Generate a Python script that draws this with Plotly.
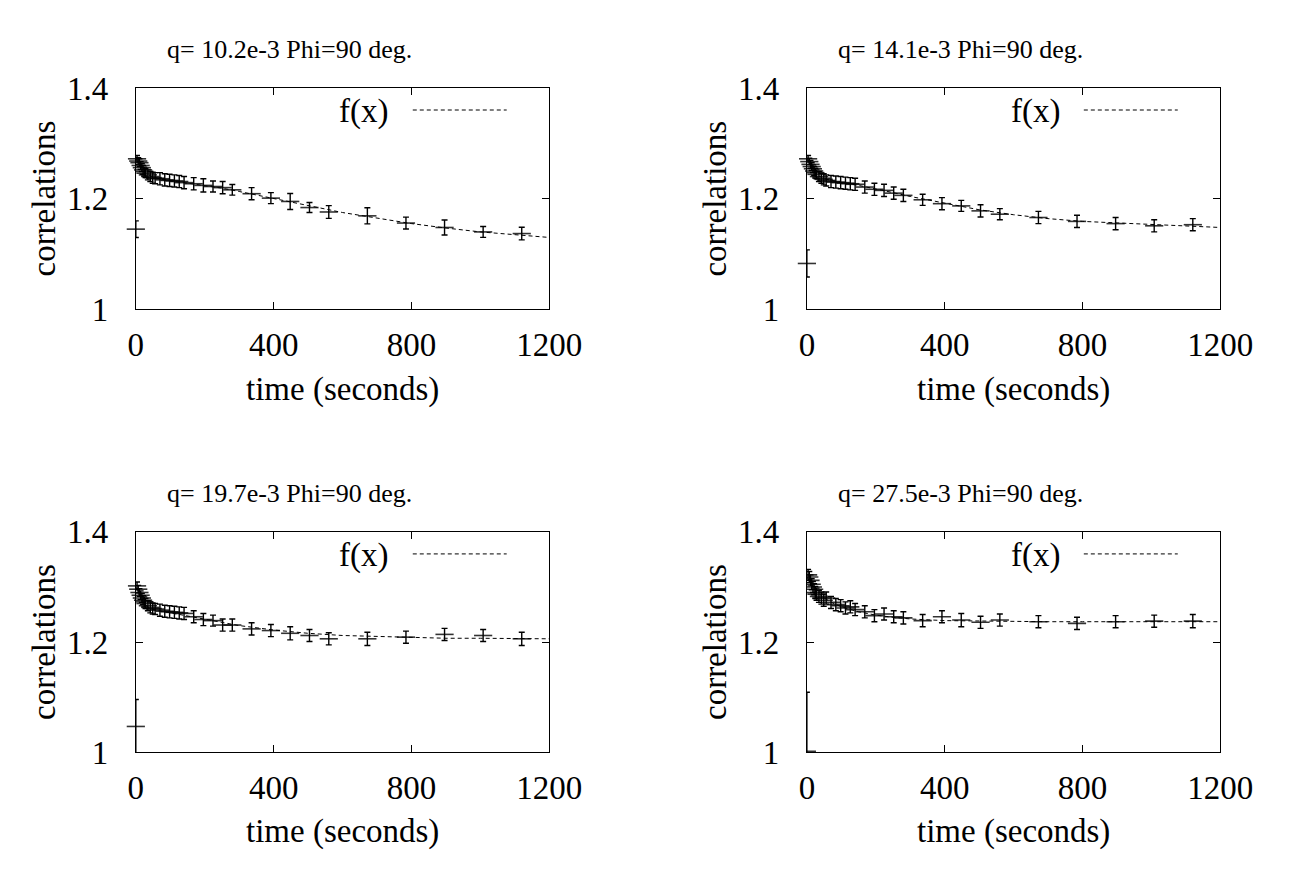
import plotly.graph_objects as go

# ---------------- data ----------------
time_s = [0, 3.5, 7, 10.5, 14, 17.5, 21, 24.5, 28, 35, 42, 49, 56, 70, 84, 98, 112, 126, 140,
          168, 196, 224, 252, 280, 336, 392, 448, 504, 560, 672, 784, 896, 1008, 1120]

corr_q102 = [1.145, 1.272, 1.268, 1.265, 1.260, 1.256, 1.252, 1.249, 1.246, 1.243, 1.240, 1.238, 1.237,
             1.236, 1.234, 1.233, 1.232, 1.231, 1.229, 1.227, 1.224, 1.222, 1.220, 1.216,
             1.209, 1.201, 1.195, 1.184, 1.176, 1.169, 1.156, 1.148, 1.140, 1.137]
err_q102 = [0.015, 0.006, 0.006, 0.007, 0.007, 0.007, 0.008, 0.008, 0.008, 0.009, 0.009, 0.010, 0.010,
            0.011, 0.011, 0.011, 0.011, 0.011, 0.011, 0.011, 0.012, 0.010, 0.011, 0.0095,
            0.011, 0.010, 0.0145, 0.009, 0.0115, 0.0145, 0.0107, 0.0136, 0.0098, 0.0113]

corr_q141 = [1.083, 1.272, 1.267, 1.262, 1.258, 1.254, 1.250, 1.247, 1.244, 1.240, 1.237, 1.235, 1.233,
             1.231, 1.230, 1.229, 1.228, 1.227, 1.226, 1.221, 1.217, 1.215, 1.210, 1.206,
             1.198, 1.191, 1.187, 1.178, 1.172, 1.166, 1.159, 1.155, 1.151, 1.153]
err_q141 = [0.0245, 0.006, 0.006, 0.007, 0.007, 0.007, 0.008, 0.008, 0.008, 0.009, 0.009, 0.010, 0.010,
            0.011, 0.011, 0.011, 0.011, 0.011, 0.011, 0.011, 0.011, 0.011, 0.011, 0.011,
            0.010, 0.011, 0.010, 0.011, 0.010, 0.011, 0.011, 0.011, 0.011, 0.011]

corr_q197 = [1.047, 1.302, 1.296, 1.290, 1.285, 1.280, 1.276, 1.273, 1.270, 1.266, 1.263, 1.261, 1.260,
             1.258, 1.256, 1.255, 1.254, 1.253, 1.252, 1.246, 1.241, 1.239, 1.231, 1.231,
             1.224, 1.221, 1.216, 1.212, 1.206, 1.206, 1.209, 1.214, 1.212, 1.206]
err_q197 = [0.049, 0.007, 0.007, 0.007, 0.008, 0.008, 0.008, 0.009, 0.009, 0.009, 0.010, 0.010, 0.010,
            0.011, 0.011, 0.011, 0.011, 0.011, 0.011, 0.011, 0.011, 0.010, 0.011, 0.011,
            0.011, 0.011, 0.012, 0.011, 0.011, 0.012, 0.011, 0.011, 0.011, 0.012]

corr_q275 = [1.002, 1.322, 1.318, 1.312, 1.305, 1.300, 1.296, 1.290, 1.287, 1.283, 1.280, 1.276, 1.280,
             1.272, 1.268, 1.266, 1.262, 1.264, 1.259, 1.255, 1.248, 1.251, 1.246, 1.244,
             1.239, 1.246, 1.240, 1.236, 1.240, 1.237, 1.234, 1.237, 1.238, 1.238]
err_q275 = [0.107, 0.010, 0.010, 0.010, 0.010, 0.010, 0.010, 0.011, 0.011, 0.011, 0.011, 0.011, 0.011,
            0.011, 0.011, 0.011, 0.011, 0.011, 0.011, 0.011, 0.011, 0.011, 0.011, 0.011,
            0.011, 0.011, 0.012, 0.011, 0.011, 0.011, 0.011, 0.011, 0.011, 0.012]

fit_t = [0, 10, 20, 35, 50, 75, 100, 150, 200, 250, 300, 400, 500, 600, 700, 800, 900, 1000, 1100, 1200]
fit_q102 = [1.272, 1.262, 1.253, 1.244, 1.239, 1.235, 1.232, 1.228, 1.224, 1.219, 1.213, 1.200, 1.187,
            1.175, 1.165, 1.155, 1.147, 1.140, 1.135, 1.130]
fit_q141 = [1.272, 1.260, 1.251, 1.241, 1.236, 1.232, 1.229, 1.224, 1.218, 1.211, 1.204, 1.192, 1.180,
            1.171, 1.164, 1.159, 1.156, 1.153, 1.150, 1.148]
fit_q197 = [1.300, 1.285, 1.274, 1.264, 1.259, 1.256, 1.253, 1.248, 1.242, 1.236, 1.230, 1.222, 1.216,
            1.212, 1.210, 1.208, 1.207, 1.207, 1.206, 1.206]
fit_q275 = [1.318, 1.308, 1.298, 1.288, 1.280, 1.271, 1.264, 1.255, 1.249, 1.245, 1.242, 1.239, 1.238,
            1.237, 1.237, 1.237, 1.237, 1.237, 1.237, 1.237]

titles = ["q= 10.2e-3 Phi=90 deg.", "q= 14.1e-3 Phi=90 deg.",
          "q= 19.7e-3 Phi=90 deg.", "q= 27.5e-3 Phi=90 deg."]
x_ticks = [0, 400, 800, 1200]
y_ticks = [1.0, 1.2, 1.4]
y_tick_text = ["1", "1.2", "1.4"]

# ---------------- figure ----------------
W, H = 1295, 873
FONT = "Liberation Serif, Times New Roman, serif"
FS = 33        # tick labels, axis titles, legend
FS_T = 26      # panel titles

panels = [
    (time_s, corr_q102, err_q102, fit_q102, False),
    (time_s, corr_q141, err_q141, fit_q141, False),
    (time_s, corr_q197, err_q197, fit_q197, False),
    (time_s, corr_q275, err_q275, fit_q275, True),
]

# pixel boxes of the plot areas (left, right, top, bottom)
boxes = [(132, 559, 74, 305), (825, 1252, 74, 305),
         (132, 559, 537, 767), (825, 1252, 537, 767)]

fig = go.Figure()
layout = dict(
    width=W, height=H, margin=dict(l=0, r=0, t=0, b=0),
    paper_bgcolor="white", plot_bgcolor="white",
    showlegend=False, font=dict(family=FONT, size=FS, color="black"),
)
annotations = []
shapes = []

for i, ((t, c, e, fy, clip), (l, r, tp, bt)) in enumerate(zip(panels, boxes)):
    n = "" if i == 0 else str(i + 1)
    xa, ya = "x" + n, "y" + n
    fig.add_trace(go.Scatter(
        x=fit_t, y=fy, xaxis=xa, yaxis=ya, mode="lines",
        line=dict(color="black", width=1, dash="4px,3px"), name="f(x)",
        hoverinfo="skip"))
    fig.add_trace(go.Scatter(
        x=t, y=c, xaxis=xa, yaxis=ya, mode="markers", cliponaxis=clip,
        marker=dict(symbol="line-ew", size=13, color="black",
                    line=dict(color="rgba(0,0,0,0.8)", width=1.6)),
        error_y=dict(type="data", array=e, visible=True, color="black",
                     thickness=1.4, width=3),
        name="data"))
    xdom = [l / W, r / W]
    ydom = [1 - bt / H, 1 - tp / H]
    common = dict(showline=True, linecolor="black", linewidth=1, mirror="ticks",
                  ticks="inside", ticklen=7, tickwidth=1, tickcolor="black",
                  showgrid=False, zeroline=False,
                  tickfont=dict(family=FONT, size=FS, color="black"))
    layout["xaxis" + n] = dict(domain=xdom, anchor=ya, range=[0, 1200],
                               tickvals=x_ticks, ticklabelstandoff=6, **common)
    layout["yaxis" + n] = dict(domain=ydom, anchor=xa, range=[1.0, 1.4],
                               tickvals=y_ticks, ticktext=y_tick_text,
                               ticklabelstandoff=20, **common)
    cx = (l + r) / 2
    # subplot title
    annotations.append(dict(text=titles[i], x=(cx - 55) / W, y=1 - (tp - 40) / H,
                            xref="paper", yref="paper", showarrow=False,
                            xanchor="center", yanchor="middle",
                            font=dict(family=FONT, size=FS_T)))
    # x axis title
    annotations.append(dict(text="time (seconds)", x=cx / W, y=1 - (bt + 83) / H,
                            xref="paper", yref="paper", showarrow=False,
                            xanchor="center", yanchor="middle",
                            font=dict(family=FONT, size=FS)))
    # y axis title
    annotations.append(dict(text="correlations", x=(l - 95) / W, y=1 - ((tp + bt) / 2) / H,
                            xref="paper", yref="paper", showarrow=False, textangle=-90,
                            xanchor="center", yanchor="middle",
                            font=dict(family=FONT, size=FS)))
    # legend: key text and sample line
    annotations.append(dict(text="f(x)", x=(l + 263) / W, y=1 - (tp + 25) / H,
                            xref="paper", yref="paper", showarrow=False,
                            xanchor="right", yanchor="middle",
                            font=dict(family=FONT, size=FS)))
    shapes.append(dict(type="line", xref="paper", yref="paper",
                       x0=(l + 286) / W, x1=(l + 383) / W,
                       y0=1 - (tp + 23) / H, y1=1 - (tp + 23) / H,
                       line=dict(color="black", width=1, dash="4px,3px")))

layout["annotations"] = annotations
layout["shapes"] = shapes
fig.update_layout(**layout)
fig.write_html("out.html")
